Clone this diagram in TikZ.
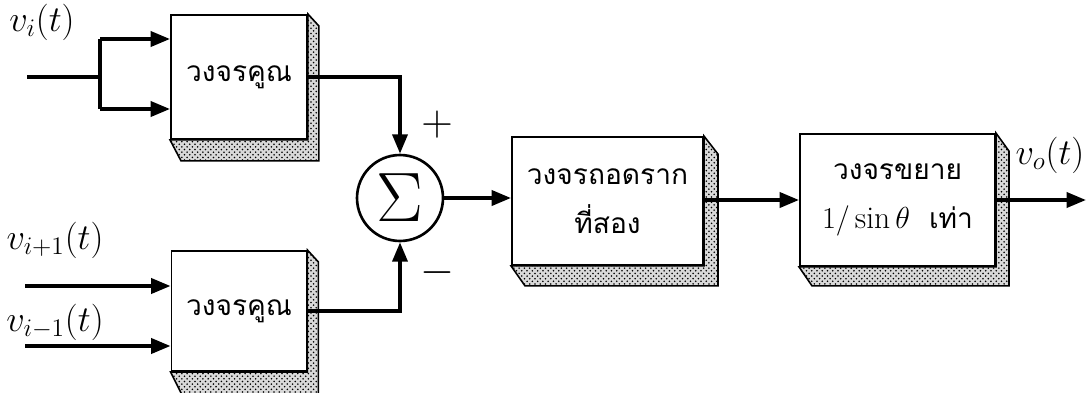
\documentclass[tikz,border=0pt]{standalone}
\usepackage{fontspec}
\usepackage{graphicx}
\newfontfamily\thaifont[Script=Thai]{Loma}
\usetikzlibrary{arrows.meta,patterns}

\begin{document}
\begin{tikzpicture}[x=0.02cm,y=-0.02cm,>={Triangle[length=11pt,width=8.5pt]},
  blk/.style={draw,fill=white,line width=1.1pt,inner sep=0pt,align=center,font=\thaifont\fontsize{16}{28}\selectfont},
  wire/.style={line width=2.1pt},
  lbl/.style={font=\fontsize{21}{24}\selectfont}]
\useasboundingbox (0,0) rectangle (1091,392);
% blocks
\node[blk,minimum width=2.72cm,minimum height=2.48cm] (m1) at (239,77) {วงจรคูณ};
\node[blk,minimum width=2.70cm,minimum height=2.40cm] (m2) at (239,311) {วงจรคูณ};
\node[draw,circle,line width=1.5pt,minimum size=1.72cm,inner sep=0pt,font=\fontsize{24}{24}\selectfont] (sum) at (400,198) {\scalebox{1.6}{$\Sigma$}};
\node[blk,minimum width=3.82cm,minimum height=2.56cm] (sq) at (607.5,201) {วงจรถอดราก\\ที่สอง};
\node[blk,minimum width=3.90cm,minimum height=2.64cm] (amp) at (897.5,200) {วงจรขยาย\\{\rmfamily\fontsize{18}{28}\selectfont$1/\sin\theta$}\ \ เท่า};
% shaded sides
\foreach \n/\tx/\ty/\bx/\by in {m1/11/12/11/21,m2/11/12/11/22,sq/14/18/14/20,amp/13/18/13/19}
  \draw[line width=0.9pt,preaction={fill=gray!30},pattern=crosshatch dots] (\n.north east) -- ++(\tx,\ty) -- ([shift={(\bx,\by)}]\n.south east)
    -- ([shift={(\bx,\by)}]\n.south west) -- (\n.south west) -- (\n.south east) -- cycle;
% inputs
\coordinate (in1) at (27,77);
\coordinate (j) at (100,77);
\coordinate (ja) at (100,39);
\coordinate (jb) at (100,109);
\coordinate (in2) at (25,286);
\coordinate (in3) at (25,346);
\draw[wire] (in1) -- (j);
\draw[wire] (ja) -- (jb);
\draw[wire,->] (ja) -- (ja -| m1.west);
\draw[wire,->] (jb) -- (jb -| m1.west);
\draw[wire,->] (in2) -- (in2 -| m2.west);
\draw[wire,->] (in3) -- (in3 -| m2.west);
% to summer and on
\draw[wire,->] (m1.east) -| (sum.north);
\draw[wire,->] (m2.east) -| (sum.south);
\draw[wire,->] (sum.east) -- (sum.east -| sq.west);
\draw[wire,->] (sq.east |- amp.west) -- (amp.west);
\coordinate (out) at (1086,200);
\draw[wire,->] (amp.east) -- (out);
% labels
\node[lbl] (lvi) at (42,22) {$v_i(t)$};
\node[lbl] (lvp) at (55,240) {$v_{i+1}(t)$};
\node[lbl] (lvm) at (55,322) {$v_{i-1}(t)$};
\node[lbl] (lvo) at (1050,155) {$v_o(t)$};
\node[font=\fontsize{24}{24}\selectfont] (plus) at (437,125) {$+$};
\node[font=\fontsize{24}{24}\selectfont] (minus) at (437,273) {$-$};
\end{tikzpicture}
\end{document}
